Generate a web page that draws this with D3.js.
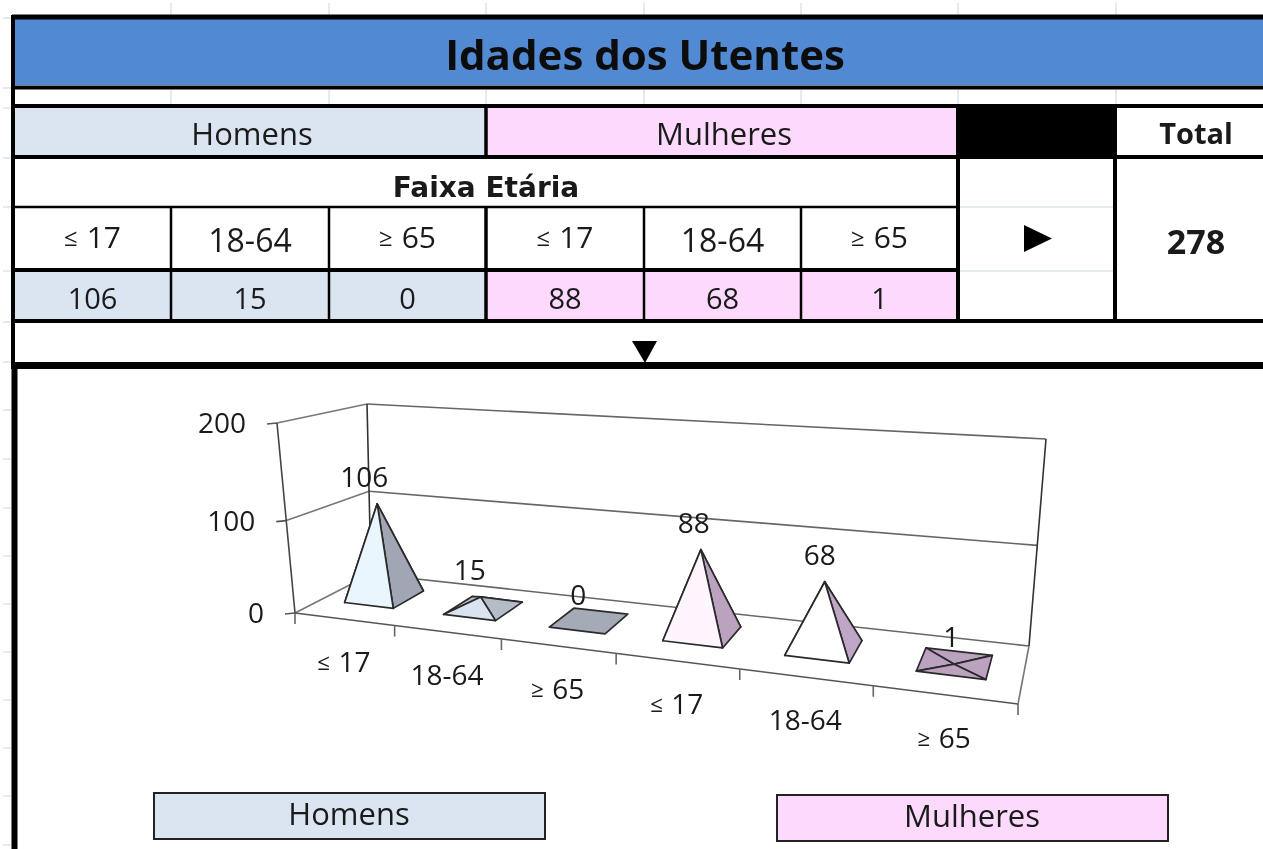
<!DOCTYPE html>
<html><head><meta charset="utf-8">
<style>html,body{margin:0;padding:0;background:#fff;overflow:hidden}svg{display:block;filter:blur(.5px)}</style>
<script src="https://cdnjs.cloudflare.com/ajax/libs/d3/7.8.5/d3.min.js"></script>
</head><body><svg id="c" width="1263" height="849"></svg>
<script>
const title = "Idades dos Utentes";
const ageRanges = ["≤ 17","18-64","≥ 65"];
const categories = ["≤ 17","18-64","≥ 65","≤ 17","18-64","≥ 65"];
const homens = [106,15,0];
const mulheres = [88,68,1];
const values = homens.concat(mulheres);
const total = 278;
const yTicks = [0,100,200];
const seriesNames = ["Homens","Mulheres"];

const BODY = "'Open Sans',sans-serif";
const frontColors = ["#eaf6fe","#d9e4f0","#a5abb6","#fef5fe","#ffffff","#bba3c0"];
const sideColors  = ["#a0a6b3","#b4bcc8","#a5abb6","#bba3c0","#c0a6c6","#bba3c0"];
const svg = d3.select("#c");

/* ---------- table layout ---------- */
const colX = [14,171,329,486,644,801,958,1116,1263];
const gridX = colX.slice(1,8);
const pale = "#dde2ee";
function rect(x,y,w,h,fill){svg.append("rect").attr("x",x).attr("y",y).attr("width",w).attr("height",h).attr("fill",fill);}
function line(x1,y1,x2,y2,w,c){svg.append("line").attr("x1",x1).attr("y1",y1).attr("x2",x2).attr("y2",y2).attr("stroke",c||"#000").attr("stroke-width",w);}
function text(s,x,y,size,weight,fam,c,parent){return (parent||svg).append("text").attr("x",x).attr("y",y).attr("text-anchor","middle").attr("dominant-baseline","central")
  .attr("font-family",fam||BODY).attr("font-size",size).attr("font-weight",weight||400).attr("fill",c||"#1a1a1a").text(s);}
/* age labels: the inequality sign is drawn smaller than the digits */
function ageText(s,x,y,size,parent){
  const t=text(null,x,y,size,400,BODY,"#1a1a1a",parent);
  if(/^[≤≥]/.test(s)){
    t.append("tspan").attr("font-size",size*.8).text(s[0]);
    t.append("tspan").attr("dx",size*.3).text(s.slice(2));
  } else t.text(s);
  return t;
}

/* spreadsheet grid remains */
gridX.forEach(x=>{line(x,3,x,15,1.5,pale);line(x,90,x,104,1.5,pale);});
[18,88,108,158,207,271,322,362,410,459,508,556,604,652,700,748,796,845].forEach(y=>line(3,y,11,y,1.5,pale));
line(960,207,1113,207,1.5,pale);line(960,271,1113,271,1.5,pale);

rect(14,19,1249,66,"#518ad2");
rect(14,108,472,47,"#dbe5f1");
rect(486,108,472,47,"#fdd9fd");
rect(958,104,158,55,"#000");
rect(14,272,472,47,"#dbe5f1");
rect(486,272,472,47,"#fdd9fd");

[[17,5],[87.5,4],[106,4],[157,4],[321,4]].forEach(d=>line(12,d[0],1263,d[0],d[1]));
line(12,270,958,270,4);
line(12,207,958,207,2.5);
line(12,365.5,1263,365.5,7);
line(13,15,13,369,4);
line(14.5,366,14.5,849,6);
[171,329,644,801].forEach(x=>line(x,207,x,321,2.5));
line(486,106,486,155,3.5);
line(486,207,486,321,3.5);
line(958,106,958,321,4);
line(1115,106,1115,321,4);

text(title,645,53,42,700,BODY,"#0c0c0c");
text(seriesNames[0],252,133,31);
text(seriesNames[1],724,133,31);
text("Total",1196,132,29,700);
text("Faixa Etária",486,187,28,700,"'DejaVu Sans',sans-serif");
ageRanges.concat(ageRanges).forEach((t,i)=>ageText(t,(colX[i]+colX[i+1])/2,t==="18-64"?239:236,t==="18-64"?32:30));
values.forEach((v,i)=>text(v,(colX[i]+colX[i+1])/2,297,29));
text(total,1196,241,34,700);
svg.append("path").attr("d","M1024,225L1052,238.5L1024,252Z").attr("fill","#000");
svg.append("path").attr("d","M632,341L657,341L645,363Z").attr("fill","#000");

/* ---------- 3-D chart projection ---------- */
function homography(p0,p1,p2,p3){
  const sx=p0[0]-p1[0]+p2[0]-p3[0], sy=p0[1]-p1[1]+p2[1]-p3[1];
  const dx1=p1[0]-p2[0],dx2=p3[0]-p2[0],dy1=p1[1]-p2[1],dy2=p3[1]-p2[1];
  const den=dx1*dy2-dx2*dy1;
  const g=(sx*dy2-dx2*sy)/den,h=(dx1*sy-sx*dy1)/den;
  const a=p1[0]-p0[0]+g*p1[0],b=p3[0]-p0[0]+h*p3[0],d=p1[1]-p0[1]+g*p1[1],e=p3[1]-p0[1]+h*p3[1];
  return (u,w)=>{const k=g*u+h*w+1;return [(a*u+b*w+p0[0])/k,(d*u+e*w+p0[1])/k];};
}
const floorH = homography([295,613],[1018,704],[1029,646],[371,574]);
const topH   = homography([277,423],[1037,469],[1046,439],[367,404]);
const yScale = d3.scalePow().exponent(1.04).domain([0,200]).range([0,1]);
const band = d3.scaleBand().domain(d3.range(categories.length)).range([0,1]).paddingInner(.5).paddingOuter(.25);
const depth = d3.scaleLinear().domain([0,1]).range([.32,.75]);
function P(u,w,val){const f=floorH(u,w),t=topH(u,w),k=yScale(val);return [f[0]+(t[0]-f[0])*k,f[1]+(t[1]-f[1])*k];}
const pathGen = d3.line();
const g = svg.append("g");
function seg(a,b,col,w){g.append("path").attr("d",pathGen([a,b])).attr("fill","none").attr("stroke",col||"#555").attr("stroke-width",w||1.6);}

/* walls and gridlines */
yTicks.forEach(v=>{
  seg(P(0,0,v),P(0,1,v),"#777");
  seg(P(0,1,v),P(1,1,v),"#666");
  const a=P(0,0,v);
  seg(a,[a[0]-10,a[1]+1],"#555");
  g.append("text").attr("x",a[0]-31).attr("y",a[1]-1).attr("text-anchor","end").attr("dominant-baseline","central")
   .attr("font-family",BODY).attr("font-size",28).attr("fill","#1a1a1a").text(v);
});
seg(P(0,0,0),P(0,0,200),"#444");
seg(P(0,1,0),P(0,1,200),"#333");
seg(P(1,1,0),P(1,1,200),"#333");
seg(P(0,0,0),P(1,0,0),"#555");
seg(P(1,0,0),P(1,1,0),"#777");

/* category ticks and labels */
d3.range(categories.length+1).forEach(i=>{
  const a=P(i/categories.length,0,0);
  seg(a,[a[0],a[1]+11],"#666");
});
categories.forEach((c,i)=>{
  const a=P((i+.5)/categories.length,0,0);
  ageText(c,a[0],a[1]+42,28,g);
});

/* pyramids */
values.forEach((v,i)=>{
  const u0=band(i),u1=u0+band.bandwidth(),um=(u0+u1)/2,w0=depth(0),w1=depth(1),wm=depth(.42);
  const FL=P(u0,w0,0),FR=P(u1,w0,0),BR=P(u1,w1,0),BL=P(u0,w1,0),A=P(um,wm,v);
  const stroke=f=>g.append("path").attr("d",pathGen(f.pts)+"Z").attr("fill",f.fill).attr("stroke","#2a2a2a").attr("stroke-width",1.7).attr("stroke-linejoin","round");
  if(v===0) stroke({pts:[FL,FR,BR,BL],fill:frontColors[i]});
  else [[BL,BR,A,sideColors[i]],[FL,BL,A,sideColors[i]],[FR,BR,A,sideColors[i]],[FL,FR,A,frontColors[i]]]
        .forEach(f=>stroke({pts:f.slice(0,3),fill:f[3]}));
  const uf=i/(values.length-1);
  g.append("text").attr("x",A[0]-13+10*uf).attr("y",A[1]-28).attr("text-anchor","middle").attr("dominant-baseline","central")
   .attr("font-family",BODY).attr("font-size",28).attr("fill","#1a1a1a").text(v);
});

/* legend */
[[154,793,"#dbe5f1"],[777,795,"#fdd9fd"]].forEach((d,i)=>{
  svg.append("rect").attr("x",d[0]).attr("y",d[1]).attr("width",391).attr("height",46).attr("fill",d[2]).attr("stroke","#222").attr("stroke-width",2);
  text(seriesNames[i],d[0]+195,d[1]+20,31);
});
</script></body></html>
